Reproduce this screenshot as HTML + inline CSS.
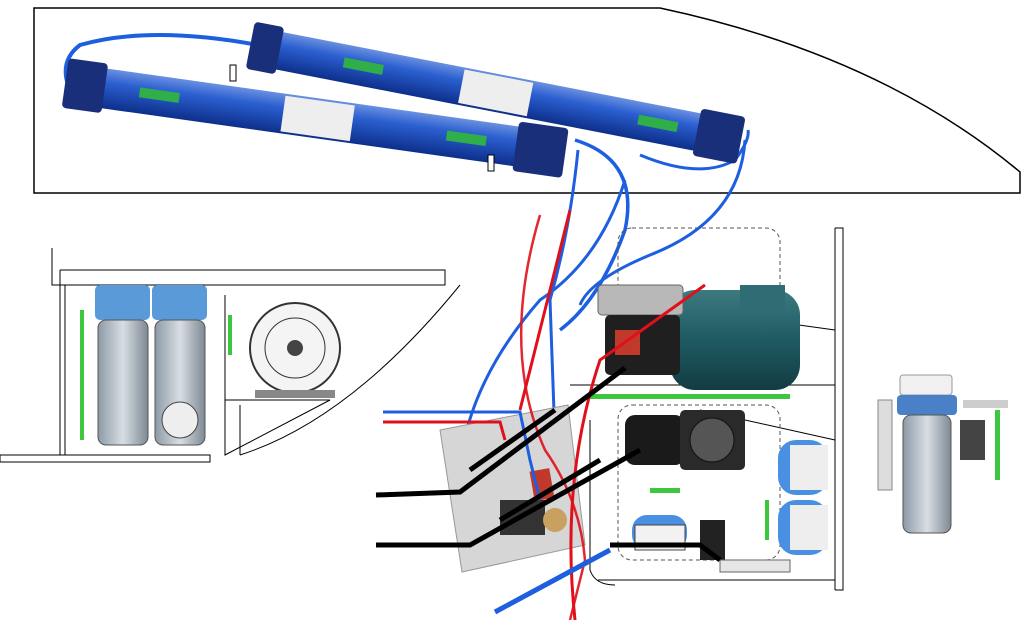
<!DOCTYPE html>
<html><head><meta charset="utf-8"><style>
html,body{margin:0;padding:0;background:#fff;width:1024px;height:620px;overflow:hidden}
svg{display:block}
</style></head><body>
<svg width="1024" height="620" viewBox="0 0 1024 620" xmlns="http://www.w3.org/2000/svg">
<defs>
<linearGradient id="tube" x1="0" y1="0" x2="0" y2="1">
<stop offset="0" stop-color="#6a90e0"/><stop offset="0.35" stop-color="#2b5fd0"/><stop offset="1" stop-color="#0d2f8a"/>
</linearGradient>
<linearGradient id="filt" x1="0" y1="0" x2="1" y2="0">
<stop offset="0" stop-color="#8c9aa6"/><stop offset="0.5" stop-color="#d8dee3"/><stop offset="1" stop-color="#7d8994"/>
</linearGradient>
<linearGradient id="mot" x1="0" y1="0" x2="0" y2="1">
<stop offset="0" stop-color="#3c7a80"/><stop offset="0.5" stop-color="#1f5a62"/><stop offset="1" stop-color="#123c42"/>
</linearGradient>
</defs>
<!-- hull top box -->
<path d="M34,8 L660,8 Q880,55 1020,172 L1020,193 L34,193 Z" fill="none" stroke="#000" stroke-width="1.5"/>
<!-- hoses top -->
<path d="M258,45 Q150,25 80,45 Q60,60 68,85" fill="none" stroke="#1e5fe0" stroke-width="4"/>
<path d="M575,140 Q640,160 625,230 Q600,300 560,330" fill="none" stroke="#1e5fe0" stroke-width="3.5"/>
<path d="M640,155 Q700,180 735,160 Q750,140 748,130" fill="none" stroke="#1e5fe0" stroke-width="3"/>
<path d="M745,140 Q740,220 650,255 Q590,280 580,305" fill="none" stroke="#1e5fe0" stroke-width="3"/>
<path d="M578,150 Q570,230 550,300 L555,440" fill="none" stroke="#1e5fe0" stroke-width="3"/>
<path d="M625,180 Q600,260 540,300 Q470,380 460,465" fill="none" stroke="#1e5fe0" stroke-width="3"/>
<!-- tube back -->
<g transform="translate(265,48) rotate(11)">
<rect x="0" y="-19" width="480" height="38" fill="url(#tube)"/>
<rect x="200" y="-17" width="70" height="34" fill="#eee"/>
<rect x="80" y="-6" width="40" height="10" fill="#2fae4a"/>
<rect x="380" y="-6" width="40" height="10" fill="#2fae4a"/>
<rect x="-15" y="-24" width="30" height="48" rx="4" fill="#1a2f7a"/>
<rect x="440" y="-24" width="45" height="48" rx="4" fill="#1a2f7a"/>
</g>
<!-- tube front -->
<g transform="translate(80,85) rotate(8)">
<rect x="0" y="-20" width="480" height="40" fill="url(#tube)"/>
<rect x="205" y="-18" width="70" height="36" fill="#eee"/>
<rect x="60" y="-6" width="40" height="10" fill="#2fae4a"/>
<rect x="370" y="-6" width="40" height="10" fill="#2fae4a"/>
<rect x="-15" y="-25" width="40" height="50" rx="4" fill="#1a2f7a"/>
<rect x="440" y="-25" width="50" height="50" rx="4" fill="#1a2f7a"/>
</g>
<rect x="230" y="65" width="6" height="16" fill="#fff" stroke="#000"/>
<rect x="488" y="155" width="6" height="16" fill="#fff" stroke="#000"/>
<!-- left cabinet -->
<g fill="none" stroke="#000" stroke-width="1">
<path d="M52,248 L52,285 L445,285 L445,270 L60,270"/>
<path d="M60,270 L60,455 M65,285 L65,455"/>
<path d="M0,455 L210,455 L210,462 L0,462 Z"/>
<path d="M225,400 L330,400 L225,455 Z"/>
<path d="M460,285 Q350,420 240,455"/>
<path d="M225,295 L225,455 M240,405 L240,455"/>
</g>
<rect x="80" y="310" width="4" height="130" fill="#3ec73e"/>
<rect x="228" y="315" width="4" height="40" fill="#3ec73e"/>
<rect x="95" y="285" width="55" height="35" rx="5" fill="#5b9ad8"/>
<rect x="152" y="285" width="55" height="35" rx="5" fill="#5b9ad8"/>
<rect x="98" y="320" width="50" height="125" rx="8" fill="url(#filt)" stroke="#555"/>
<rect x="155" y="320" width="50" height="125" rx="8" fill="url(#filt)" stroke="#555"/>
<circle cx="180" cy="420" r="18" fill="#eee" stroke="#444"/>
<circle cx="295" cy="348" r="45" fill="#f4f4f4" stroke="#333" stroke-width="2"/>
<circle cx="295" cy="348" r="30" fill="none" stroke="#333"/>
<circle cx="295" cy="348" r="8" fill="#444"/>
<rect x="255" y="390" width="80" height="8" fill="#888"/>
<!-- right cabinet -->
<g fill="none" stroke="#000">
<path d="M835,228 L843,228 L843,590 L835,590 M835,228 L835,590 M598,580 L835,580"/>
<path d="M590,420 L590,570 Q595,585 615,585"/>
<path d="M690,310 L835,330"/>
<path d="M570,385 L835,385 M700,410 L835,440"/>
</g>
<rect x="618" y="228" width="162" height="80" rx="14" fill="none" stroke="#555" stroke-dasharray="4,3"/>
<rect x="618" y="405" width="162" height="155" rx="14" fill="none" stroke="#555" stroke-dasharray="4,3"/>
<!-- green lines -->
<rect x="590" y="394" width="200" height="5" fill="#3ec73e"/>
<rect x="650" y="488" width="30" height="5" fill="#3ec73e"/>
<rect x="765" y="500" width="4" height="40" fill="#3ec73e"/>
<!-- pump & motor -->
<rect x="670" y="290" width="130" height="100" rx="25" fill="url(#mot)"/>
<rect x="740" y="285" width="45" height="30" fill="#2e6d74"/>
<rect x="598" y="285" width="85" height="30" rx="4" fill="#b8b8b8" stroke="#666"/>
<rect x="605" y="315" width="75" height="60" rx="5" fill="#1f1f1f"/>
<rect x="615" y="330" width="25" height="25" fill="#c0392b"/>
<!-- lower motor/pump -->
<rect x="625" y="415" width="60" height="50" rx="10" fill="#1a1a1a"/>
<rect x="680" y="410" width="65" height="60" rx="5" fill="#2a2a2a"/>
<circle cx="712" cy="440" r="22" fill="#555" stroke="#111"/>
<!-- tanks -->
<rect x="778" y="440" width="50" height="55" rx="18" fill="#4a90e2"/>
<rect x="790" y="445" width="38" height="45" fill="#eee"/>
<rect x="778" y="500" width="50" height="55" rx="18" fill="#4a90e2"/>
<rect x="790" y="505" width="38" height="45" fill="#eee"/>
<rect x="632" y="515" width="55" height="35" rx="15" fill="#4a90e2"/>
<rect x="635" y="525" width="50" height="25" fill="#f2f2f2" stroke="#444"/>
<rect x="700" y="520" width="25" height="40" fill="#222"/>
<rect x="720" y="560" width="70" height="12" fill="#e6e6e6" stroke="#666"/>
<!-- panel -->
<polygon points="440,430 568,405 585,545 462,572" fill="#d6d6d6" stroke="#999"/>
<rect x="500" y="500" width="45" height="35" fill="#333"/>
<circle cx="555" cy="520" r="12" fill="#c8a060"/>
<rect x="532" y="470" width="20" height="30" fill="#c0392b" transform="rotate(-10 540 485)"/>
<!-- red/blue wires -->
<path d="M383,412 L520,412 L530,460 L540,500" fill="none" stroke="#1e5fe0" stroke-width="3"/>
<path d="M383,422 L500,422 L505,440" fill="none" stroke="#e0101a" stroke-width="3"/>
<path d="M570,210 L520,410" fill="none" stroke="#e0101a" stroke-width="3"/>
<path d="M705,285 L600,360 Q560,480 575,620" fill="none" stroke="#e0101a" stroke-width="3"/>
<path d="M540,215 Q500,350 545,450 Q580,500 585,560 L570,620" fill="none" stroke="#e0101a" stroke-width="2.5" opacity="0.9"/>
<path d="M495,612 L610,550" stroke="#1e5fe0" stroke-width="5"/>
<!-- black cables -->
<g stroke="#000" stroke-width="5" fill="none">
<path d="M376,495 L460,492 L625,368"/>
<path d="M376,545 L470,545 L640,450"/>
<path d="M470,470 L555,410"/>
<path d="M500,520 L600,460"/>
<path d="M610,545 L700,545 L720,560"/>
</g>
<!-- right standalone filter -->
<rect x="878" y="400" width="14" height="90" fill="#ddd" stroke="#888"/>
<rect x="900" y="375" width="52" height="20" rx="3" fill="#f0f0f0" stroke="#999"/>
<rect x="897" y="395" width="60" height="20" rx="4" fill="#4a80c8"/>
<rect x="903" y="415" width="48" height="118" rx="8" fill="url(#filt)" stroke="#555"/>
<rect x="960" y="420" width="25" height="40" fill="#444"/>
<rect x="995" y="410" width="5" height="70" fill="#3ec73e"/>
<rect x="963" y="400" width="45" height="8" fill="#ccc"/>
</svg>
</body></html>
